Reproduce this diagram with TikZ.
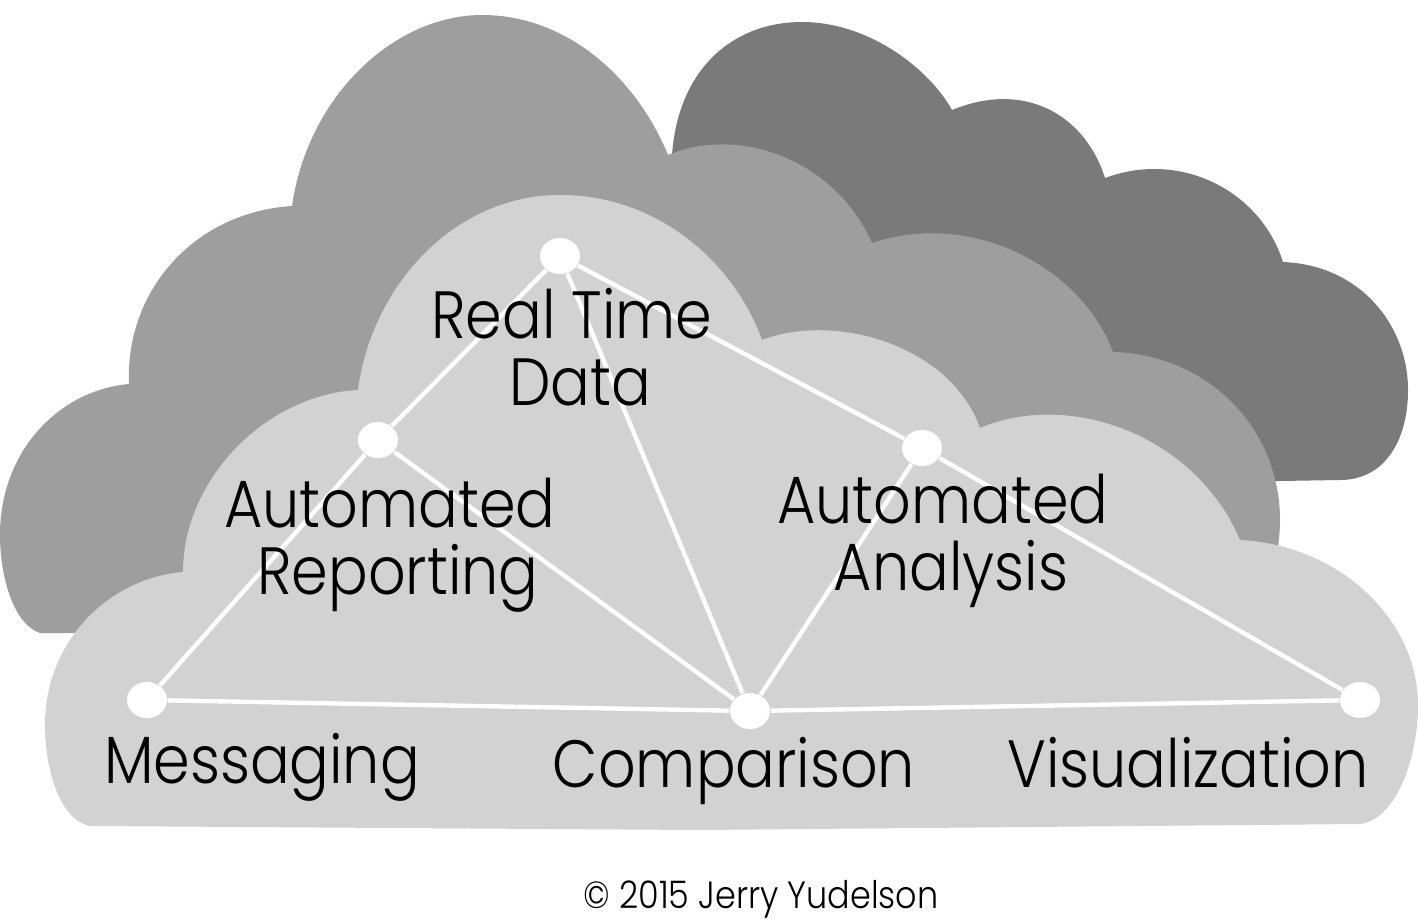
\documentclass[tikz,border=0pt]{standalone}
\usepackage{fontspec}
\setmainfont{Poppins Light}[FakeStretch=0.88]
\definecolor{D}{RGB}{122, 122, 122}
\definecolor{M}{RGB}{158, 158, 158}
\definecolor{L}{RGB}{210, 210, 210}
\tikzset{
	dot/.style={ellipse, fill=white, minimum width=0.40cm, minimum height=0.36cm, inner sep=0pt},
	lbl/.style={align=center, text=black, font=\fontsize{19}{18.9}\selectfont},
	link/.style={draw=white, line width=1.25pt}
}
\usetikzlibrary{shapes.geometric}
\begin{document}
\begin{tikzpicture}[x=0.01cm, y=-0.01cm]
	\useasboundingbox (0,0) rectangle (1418,918);
	% Nube de atras
	\fill[color=D] (672,155) .. controls (678,70) and (732,22) .. (802,22)
		.. controls (870,22) and (930,70) .. (952,110)
		.. controls (1025,80) and (1085,115) .. (1105,178)
		.. controls (1180,150) and (1260,190) .. (1283,262)
		.. controls (1360,265) and (1408,325) .. (1408,390)
		.. controls (1408,440) and (1385,480) .. (1340,480)
		-- (1100,484) -- (800,300) -- cycle;
	% Nube del medio
	\fill[color=M] (40,633) .. controls (15,625) and (0,580) .. (0,535)
		.. controls (0,450) and (60,390) .. (129,384)
		.. controls (125,290) and (195,212) .. (292,206)
		.. controls (308,95) and (395,15) .. (482,15)
		.. controls (565,15) and (635,75) .. (668,155)
		.. controls (740,125) and (835,160) .. (872,243)
		.. controls (970,210) and (1080,265) .. (1113,352)
		.. controls (1210,355) and (1280,430) .. (1280,520)
		.. controls (1280,560) and (1265,620) .. (1240,640)
		-- cycle;
	% Nube de adelante
	\fill[color=L] (90,826) .. controls (60,820) and (45,770) .. (45,725)
		.. controls (45,640) and (110,578) .. (183,572)
		.. controls (183,480) and (265,395) .. (358,390)
		.. controls (372,285) and (455,195) .. (560,195)
		.. controls (660,195) and (735,265) .. (762,340)
		.. controls (835,312) and (950,345) .. (980,428)
		.. controls (1070,390) and (1195,435) .. (1240,540)
		.. controls (1340,545) and (1418,620) .. (1418,705)
		.. controls (1418,760) and (1395,820) .. (1360,824)
		-- (700,830) -- cycle;
	% Puntos
	\node[dot] (top) at (560,256) {};
	\node[dot] (rep) at (378,440) {};
	\node[dot] (ana) at (922,448) {};
	\node[dot] (msg) at (147,700) {};
	\node[dot] (cmp) at (750,711) {};
	\node[dot] (vis) at (1360,700) {};
	% Lineas
	\draw[link] (top) -- (rep);
	\draw[link] (rep) -- (msg);
	\draw[link] (rep) -- (cmp);
	\draw[link] (top) -- (cmp);
	\draw[link] (top) -- (ana);
	\draw[link] (ana) -- (cmp);
	\draw[link] (ana) -- (vis);
	\draw[link] (msg) -- (cmp);
	\draw[link] (cmp) -- (vis);
	% Textos
	\node[lbl] (ltop) at (572,347) {Real Time\\\hspace*{0.16cm}Data};
	\node[lbl] (lrep) at (390,545) {Automated\\\hspace*{0.16cm}Reporting};
	\node[lbl] (lana) at (943,541) {Automated\\\hspace*{0.16cm}Analysis};
	\node[lbl] (lmsg) at (262,767) {Messaging};
	\node[lbl] (lcmp) at (734,771) {Comparison};
	\node[lbl] (lvis) at (1188,763) {Visualization};
	\node[font=\fontsize{10.8}{12}\selectfont] (copy) at (761,899) {© 2015 Jerry Yudelson};
\end{tikzpicture}
\end{document}
